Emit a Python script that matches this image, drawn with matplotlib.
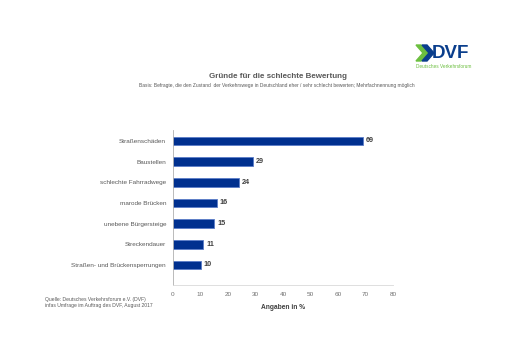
"""Gründe für die schlechte Bewertung - horizontal bar chart (DVF survey)."""

import matplotlib

matplotlib.use("Agg")
import matplotlib.pyplot as plt
from matplotlib.patches import Polygon

categories = [
    "Straßenschäden",
    "Baustellen",
    "schlechte Fahrradwege",
    "marode Brücken",
    "unebene Bürgersteige",
    "Streckendauer",
    "Straßen- und Brückensperrungen",
]
values = [69, 29, 24, 16, 15, 11, 10]
xticks = [0, 10, 20, 30, 40, 50, 60, 70, 80]

plt.rcParams["font.family"] = ["Liberation Sans", "DejaVu Sans"]

W, H = 512, 362
fig = plt.figure(figsize=(W / 100, H / 100), dpi=100)
# axes box in pixel coords: left 173, right 393, top 130, bottom 285
ax = fig.add_axes([173 / W, 1 - 285 / H, 220 / W, 155 / H])

bar_color = "#00308F"
ax.barh(range(len(values)), values, height=0.42, color=bar_color,
        edgecolor="#5a7cc8", linewidth=0.6)
for i, v in enumerate(values):
    ax.text(v + 1, i, str(v), va="center", ha="left", fontsize=5.2,
            fontweight="bold", color="#404040")

ax.set_xlim(0, 80)
ax.set_ylim(6.97, -0.53)
ax.set_xticks(xticks)
ax.set_xticklabels([str(t) for t in xticks], fontsize=4.6, color="#707070")
ax.set_yticks(range(len(categories)))
ax.set_yticklabels(categories, fontsize=4.6, color="#595959")
ax.tick_params(axis="both", length=0, pad=5)
for side in ("top", "right"):
    ax.spines[side].set_visible(False)
ax.spines["left"].set_color("#b0b0b0")
ax.spines["left"].set_linewidth(0.6)
ax.spines["bottom"].set_color("#d9d9d9")
ax.spines["bottom"].set_linewidth(0.6)
ax.set_xlabel("Angaben in %", fontsize=4.8, fontweight="bold", color="#404040",
              labelpad=5)

# titles
fig.text(278 / W, 1 - 77 / H, "Gründe für die schlechte Bewertung", ha="center",
         va="center", fontsize=5.8, fontweight="bold", color="#595959")
fig.text(277 / W, 1 - 86 / H,
         "Basis: Befragte, die den Zustand  der Verkehrswege in Deutschland eher / sehr "
         "schlecht bewerten; Mehrfachnennung möglich",
         ha="center", va="center", fontsize=3.5, color="#595959")

# source
fig.text(45 / W, 1 - 300 / H, "Quelle: Deutsches Verkehrsforum e.V. (DVF)",
         ha="left", va="center", fontsize=3.6, color="#595959")
fig.text(45 / W, 1 - 305 / H, "infas Umfrage im Auftrag des DVF, August 2017",
         ha="left", va="center", fontsize=3.6, color="#595959")


# logo
def px(x, y):
    return (x / W, 1 - y / H)


green = "#6cbf3f"
blue = "#0a3e8c"
fig.patches.append(Polygon([px(416, 45), px(421, 45), px(428, 53), px(421, 61),
                            px(416, 61), px(423, 53)], closed=True,
                           transform=fig.transFigure, color=green))
fig.patches.append(Polygon([px(422, 45), px(427, 45), px(434, 53), px(427, 61),
                            px(422, 61), px(429, 53)], closed=True,
                           transform=fig.transFigure, color=blue))
fig.text(432 / W, 1 - 53.5 / H, "DVF", ha="left", va="center", fontsize=13.5,
         fontweight="bold", color=blue)
fig.text(444 / W, 1 - 66.5 / H, "Deutsches Verkehrsforum", ha="center", va="center",
         fontsize=3.4, color=green)

fig.savefig("out.png", dpi=100)
